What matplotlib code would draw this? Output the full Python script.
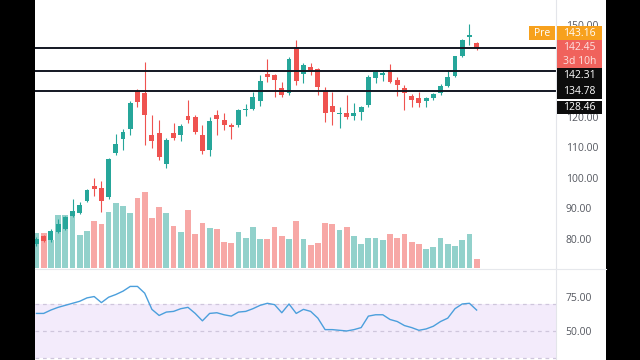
import matplotlib
matplotlib.use("Agg")
import matplotlib.pyplot as plt
from matplotlib.patches import Rectangle
from matplotlib.lines import Line2D

plt.rcParams['font.family'] = ['Open Sans', 'DejaVu Sans']

# daily candles
opens = [78.3, 80.8, 79.4, 82.1, 83.2, 87.4, 88.4, 92.3, 97.2, 96.6,
         93.6, 108.0, 112.6, 115.9, 128.4, 127.6, 114.0, 114.6, 104.4, 114.6,
         114.0, 120.2, 119.9, 114.0, 109.0, 120.5, 118.9, 117.3, 117.2, 122.2,
         122.5, 125.0, 134.0, 133.6, 129.3, 127.8, 142.9, 134.0, 136.2, 135.6,
         128.2, 123.4, 120.9, 121.1, 120.2, 121.5, 123.8, 132.6, 133.7, 135.2,
         132.0, 129.3, 126.7, 126.0, 125.0, 126.0, 127.7, 130.1, 133.3, 139.8,
         146.2, 144.0]
highs = [80.5, 81.3, 83.0, 86.5, 87.5, 93.0, 92.0, 96.3, 100.0, 99.0,
         106.3, 114.3, 116.0, 125.0, 129.0, 138.0, 120.5, 118.9, 112.8, 117.8,
         117.5, 125.4, 120.5, 117.2, 119.7, 122.0, 121.0, 118.0, 122.5, 124.0,
         128.0, 133.5, 138.8, 134.0, 131.4, 139.5, 145.0, 137.5, 137.6, 136.0,
         129.6, 128.0, 123.1, 127.0, 124.4, 123.5, 133.5, 135.0, 135.3, 137.2,
         133.0, 130.3, 127.5, 128.0, 126.3, 127.8, 130.5, 135.2, 140.0, 145.3,
         150.3, 144.3]
lows = [77.6, 78.8, 79.0, 81.8, 82.8, 87.0, 88.0, 92.0, 94.0, 88.8,
        93.0, 107.5, 109.0, 114.0, 123.0, 110.7, 109.7, 105.7, 103.1, 112.3,
        112.0, 118.0, 114.3, 107.7, 107.2, 114.0, 115.6, 112.6, 116.5, 120.3,
        122.0, 123.5, 131.3, 126.5, 126.3, 127.0, 130.3, 131.0, 133.6, 127.0,
        118.3, 117.2, 116.2, 119.3, 118.9, 118.9, 123.0, 131.0, 131.5, 131.0,
        126.7, 122.1, 123.1, 123.0, 123.0, 125.5, 127.2, 129.8, 133.0, 139.5,
        143.4, 141.8]
closes = [79.8, 79.3, 82.5, 84.8, 87.0, 89.0, 91.0, 95.9, 96.3, 92.3,
          106.0, 111.0, 115.0, 124.4, 124.8, 120.5, 112.0, 106.7, 112.3, 113.0,
          117.0, 118.9, 115.0, 108.6, 118.5, 119.2, 117.2, 116.6, 122.1, 122.6,
          126.5, 131.8, 132.8, 132.0, 127.0, 139.0, 131.8, 136.9, 135.0, 129.7,
          121.1, 121.5, 121.2, 119.8, 121.1, 123.1, 133.0, 134.6, 134.3, 131.3,
          130.3, 127.7, 125.4, 124.5, 126.0, 127.4, 130.0, 133.0, 139.8, 145.0,
          146.6, 142.45]
# volume in millions
volumes = [17.5, 17.5, 14.0, 26.5, 26.5, 28.5, 16.5, 18.5, 23.5, 22.0,
           28.0, 32.5, 31.0, 27.5, 35.0, 38.0, 25.0, 30.5, 27.5, 21.0,
           18.0, 29.0, 17.0, 22.5, 20.0, 19.5, 13.0, 12.5, 18.0, 15.0,
           20.5, 14.5, 14.5, 20.5, 16.0, 14.5, 23.5, 14.5, 11.5, 12.5,
           22.5, 22.0, 19.0, 20.5, 16.0, 12.0, 15.0, 15.0, 14.0, 17.0,
           15.0, 17.0, 13.0, 12.0, 9.5, 10.5, 15.0, 12.0, 11.0, 14.0,
           17.0, 4.5]
rsi = [63.0, 63.0, 65.5, 67.5, 69.0, 70.5, 72.0, 74.5, 75.5, 71.0,
       75.0, 77.0, 79.5, 83.0, 83.0, 78.0, 66.0, 61.5, 64.0, 64.5,
       66.5, 67.5, 63.0, 57.5, 63.0, 63.5, 62.0, 61.0, 64.0, 64.5,
       66.5, 69.0, 70.5, 69.5, 63.5, 70.0, 63.0, 66.0, 64.5, 59.5,
       51.0, 51.0, 50.5, 50.0, 51.0, 52.5, 61.0, 62.0, 62.0, 58.5,
       57.0, 54.0, 52.5, 50.5, 51.5, 53.5, 57.0, 59.5, 66.5, 70.0,
       70.5, 65.5]
levels = [142.31, 134.78, 128.46]
# 130 and 140 sit under the price tags, so only these show
price_ticks = [80, 90, 100, 110, 120, 150]
rsi_ticks = [50, 75]
rsi_band = [30, 50, 70]
pre_price = 143.16
last_price = 142.45
countdown = "3d 10h"

GREEN = '#26a69a'
RED = '#ef5350'
GREEN_V = '#92d1cb'
RED_V = '#f7a8a6'
TXT = '#555860'

W, H = 640, 360


def rect(x0, y0, x1, y1):
    return [x0 / W, 1 - y1 / H, (x1 - x0) / W, (y1 - y0) / H]


fig = plt.figure(figsize=(6.4, 3.6), dpi=100, facecolor='black')

bg = fig.add_axes(rect(35, 0, 606, 360))
bg.set_facecolor('white')
bg.set_xticks([])
bg.set_yticks([])
for s in bg.spines.values():
    s.set_visible(False)

n = len(closes)
xs = list(range(n))
up = [c >= o for o, c in zip(opens, closes)]

# volume pane underneath the candles
axv = fig.add_axes(rect(35, 0, 556, 268))
axv.bar(xs, volumes, width=0.8, color=[GREEN_V if u else RED_V for u in up])
axv.set_ylim(0, 134)
axv.axis('off')

axp = fig.add_axes(rect(35, 0, 556, 268), sharex=axv)
axp.patch.set_alpha(0)
for i in xs:
    col = GREEN if up[i] else RED
    axp.vlines(i, lows[i], highs[i], color=col, lw=0.8)
    lo = min(opens[i], closes[i])
    h = max(abs(closes[i] - opens[i]), 0.35)
    axp.bar(i, h, bottom=lo, width=0.68, color=col)
for v in levels:
    axp.axhline(v, color='#131722', lw=1.4)
axp.set_xlim(-0.2, 72.0)
axp.set_ylim(70.33, 158.2)
axp.set_xticks([])
axp.yaxis.tick_right()
axp.set_yticks(price_ticks)
axp.set_yticklabels([f"{t:.2f}" for t in price_ticks])
axp.tick_params(axis='y', length=0, pad=7, labelsize=7.5, labelcolor=TXT)
for s in axp.spines.values():
    s.set_visible(False)
axp.spines['right'].set_visible(True)
axp.spines['right'].set_color('#e3e5ea')

# RSI pane
axr = fig.add_axes(rect(35, 269, 556, 360), sharex=axv)
axr.axhspan(rsi_band[0], rsi_band[2], color='#f3ebfb', lw=0)
for v in rsi_band:
    axr.axhline(v, color='#cfc6dc', lw=0.9, ls=(0, (3, 3)))
axr.plot(xs, rsi, color='#4b9fdc', lw=1.0)
axr.set_ylim(28.5, 95.9)
axr.set_xticks([])
axr.yaxis.tick_right()
axr.set_yticks(rsi_ticks)
axr.set_yticklabels([f"{t:.2f}" for t in rsi_ticks])
axr.tick_params(axis='y', length=0, pad=7, labelsize=7.5, labelcolor=TXT)
for s in axr.spines.values():
    s.set_visible(False)
axr.spines['right'].set_visible(True)
axr.spines['right'].set_color('#e3e5ea')

fig.add_artist(Line2D([35 / W, 606 / W], [1 - 268.5 / H] * 2, color='#e6e8ec', lw=0.8))


def box(x0, y0, x1, y1, color, lines, tcolor='white'):
    fig.add_artist(Rectangle((x0 / W, 1 - y1 / H), (x1 - x0) / W, (y1 - y0) / H,
                             transform=fig.transFigure, color=color, lw=0, zorder=5))
    step = (y1 - y0) / len(lines)
    for k, t in enumerate(lines):
        yc = y0 + step * (k + 0.5)
        fig.text((x0 + x1) / 2 / W, 1 - yc / H, t, color=tcolor, fontsize=7.5,
                 ha='center', va='center', zorder=6)


box(529, 26, 555, 40, '#f7a11d', ['Pre'])
box(557, 26, 602, 40, '#f7a11d', [f"{pre_price:.2f}"])
box(557, 40, 602, 68, '#f0625c', [f"{last_price:.2f}", countdown], tcolor='#fde3e1')
box(557, 68, 602, 83.5, '#0c0c0c', [f"{levels[0]:.2f}"])
box(557, 83.5, 602, 98.5, '#0c0c0c', [f"{levels[1]:.2f}"])
box(557, 100.5, 602, 114, '#0c0c0c', [f"{levels[2]:.2f}"])

fig.savefig('out.png', dpi=100, facecolor='black')
